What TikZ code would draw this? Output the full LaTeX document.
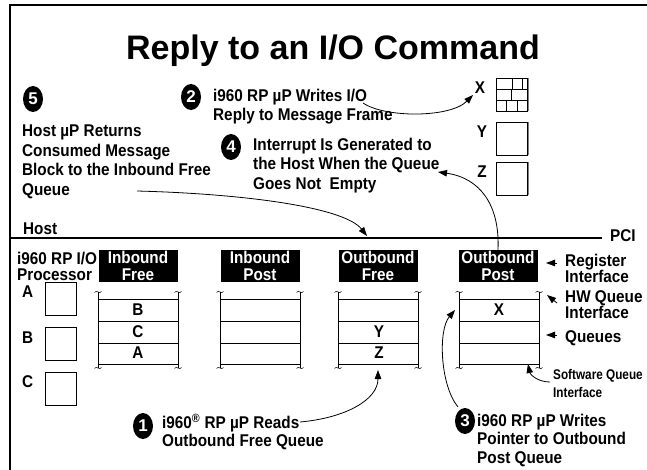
\documentclass[tikz,border=0pt]{standalone}
\usepackage{fontspec}
\setmainfont{Liberation Sans}
\newfontfamily\bodyfont[FakeStretch=0.9]{Liberation Sans}
\newfontfamily\narrowfont[FakeStretch=0.84]{Liberation Sans}
\usetikzlibrary{arrows.meta,shapes.geometric}
\begin{document}
\begin{tikzpicture}[x=1pt,y=-1pt,
  every node/.style={inner sep=0pt},
  txt/.style={font=\bodyfont\fontsize{17}{19.6}\selectfont\bfseries, align=left, anchor=north west},
  txts/.style={font=\bodyfont\fontsize{17}{18.5}\selectfont\bfseries, align=left, anchor=north west},
  txtc/.style={font=\bodyfont\fontsize{17}{16.5}\selectfont\bfseries, align=left, anchor=north west},
  lbl/.style={font=\bodyfont\fontsize{17}{17}\selectfont\bfseries},
  numc/.style={ellipse, fill=black, text=white, minimum width=20pt, minimum height=26pt, font=\fontsize{17}{17}\selectfont\bfseries},
  qlab/.style={fill=black, text=white, minimum width=79pt, minimum height=32pt, align=center, font=\bodyfont\fontsize{17}{16.5}\selectfont\bfseries},
  sqbox/.style={draw, line width=0.8pt, minimum width=31pt, minimum height=33pt, anchor=north west},
  conn/.style={line width=0.8pt, -{Triangle[length=9pt,width=6.5pt]}},
  thin/.style={line width=0.8pt},
  tld/.style={line width=0.5pt}
]
\useasboundingbox (0,0) rectangle (647,470);
% frame
\draw[line width=2pt] (10,472) -- (10,5) -- (649,5);

% title
\node[font=\fontsize{34}{34}\selectfont\bfseries, anchor=base] (title) at (333,60) {Reply to an I/O Command};

% numbered circles
\node[numc] (n5) at (33,99) {5};
\node[numc] (n2) at (191,97) {2};
\node[numc] (n4) at (231,147) {4};
\node[numc] (n1) at (143,426) {1};
\node[numc] (n3) at (465,421) {3};

% step texts
\node[txt] (t5) at (22,124.7) {Host µP Returns\\Consumed Message\\Block to the Inbound Free\\Queue};
\node[txt] (t2) at (213,88.7) {i960 RP µP Writes I/O\\Reply to Message Frame};
\node[txt] (t4) at (253,137.7) {Interrupt Is Generated to\\the Host When the Queue\\Goes Not\ \ Empty};
\node[txts] (t1) at (162,413.7) {i960\textsuperscript{®} RP µP Reads\\Outbound Free Queue};
\node[txts] (t3) at (477,413.7) {i960 RP µP Writes\\Pointer to Outbound\\Post Queue};

% host / PCI line
\coordinate (busL) at (10,238);
\coordinate (busR) at (602,238);
\draw[line width=2pt] (busL) -- (busR);
\node[lbl, anchor=west] (host) at (23,229) {Host};
\node[lbl, anchor=west] (pci) at (610,236) {PCI};

% processor
\node[txtc] (proc) at (17,251.7) {i960 RP I/O\\Processor};
\node[sqbox] (pA) at (45,282) {};
\node[sqbox] (pB) at (45,327) {};
\node[sqbox] (pC) at (45,372) {};
\node[lbl, anchor=west] (lA) at (22,292) {A};
\node[lbl, anchor=west] (lB) at (22,338) {B};
\node[lbl, anchor=west] (lC) at (22,382) {C};

% queue headers
\node[qlab] (hIF) at (138,266) {Inbound\\Free};
\node[qlab] (hIP) at (260,266) {Inbound\\Post};
\node[qlab] (hOF) at (378,266) {Outbound\\Free};
\node[qlab] (hOP) at (498,266) {Outbound\\Post};

% queue tables
\foreach \L/\nm in {98/qIF, 220/qIP, 338/qOF, 459/qOP} {
  \node[draw, line width=0.8pt, minimum width=80pt, minimum height=65pt, anchor=north west] (\nm) at (\L,299) {};
  \draw[thin] (\L,321) -- (\L+80,321) (\L,343) -- (\L+80,343);
  \draw[thin] (\L,292) -- (\L,368) (\L+80,292) -- (\L+80,368);
  \foreach \X in {\L, \L+80} {
    \foreach \Y in {292,368} {
      \draw[tld] (\X-3.5,\Y+0.5) .. controls (\X-1.5,\Y-3) and (\X+1.5,\Y+3) .. (\X+3.5,\Y-0.5);
    }
  }
}
\node[lbl] (rB) at (138,310) {B};
\node[lbl] (rC) at (138,332) {C};
\node[lbl] (rA) at (138,353) {A};
\node[lbl] (rY) at (379,332) {Y};
\node[lbl] (rZ) at (379,353) {Z};
\node[lbl] (rX) at (499,310) {X};

% message frames X Y Z
\node[sqbox] (bX) at (496,78) {};
\node[sqbox] (bY) at (496,122) {};
\node[sqbox] (bZ) at (496,162) {};
\draw[line width=1pt, gray] (528,78) -- (528,111) (528,122) -- (528,155) (528,162) -- (528,195);
\node[lbl] (xX) at (480,88) {X};
\node[lbl] (xY) at (482,132) {Y};
\node[lbl] (xZ) at (482,172) {Z};
\draw[thin] (496,89.5) -- (527,89.5) (496,100.5) -- (527,100.5);
\draw[thin] (512,78) -- (512,89.5) (522,78) -- (522,89.5);
\draw[thin] (511,89.5) -- (511,100.5);
\draw[thin] (506,100.5) -- (506,111) (517,100.5) -- (517,111);

% right side labels
\node[txtc] (reg) at (565,253.7) {Register\\Interface};
\node[txtc, font=\bodyfont\fontsize{17}{16}\selectfont\bfseries] (hw) at (565,290.7) {HW Queue\\Interface};
\node[txtc] (qs) at (565,330.7) {Queues};
\node[font=\narrowfont\fontsize{14}{18}\selectfont\bfseries, align=left, anchor=north west] (sw) at (553,369.5) {Software Queue\\Interface};

\coordinate (regA) at (557,263);
\coordinate (regB) at (546,263);
\draw[conn] (regA) -- (regB);
\coordinate (hwA) at (557,303);
\coordinate (hwB) at (547,295);
\draw[conn] (hwA) -- (hwB);
\coordinate (qsA) at (557,335);
\coordinate (qsB) at (546,335);
\draw[conn] (qsA) -- (qsB);
\coordinate (swA) at (550,382);
\coordinate (swB) at (528,364);
\draw[conn] (swA) .. controls (537,382) and (530,374) .. (swB);

% main connectors
\coordinate (a5s) at (137,191);
\coordinate (a5e) at (367,236);
\draw[conn] (a5s) .. controls (250,194) and (345,208) .. (a5e);
\coordinate (a2s) at (363,103);
\coordinate (a2e) at (473,95);
\draw[conn] (a2s) .. controls (385,118) and (450,118) .. (a2e);
\coordinate (a4e) at (438,172);
\draw[conn] (hOP.north) .. controls (500,205) and (480,178) .. (a4e);
\coordinate (a1s) at (300,422);
\coordinate (a1e) at (378,370);
\draw[conn] (a1s) .. controls (345,418) and (378,400) .. (a1e);
\coordinate (a3s) at (458,407);
\coordinate (a3e) at (455,310);
\draw[conn] (a3s) .. controls (440,385) and (438,330) .. (a3e);
\end{tikzpicture}
\end{document}
